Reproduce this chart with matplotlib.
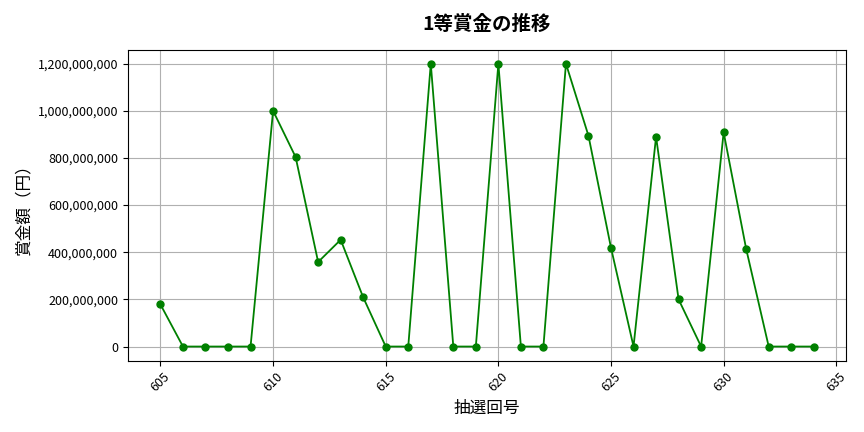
import numpy as np
import matplotlib
matplotlib.use("Agg")
import matplotlib.pyplot as plt
from matplotlib.ticker import FuncFormatter

plt.rcParams["font.family"] = ["Noto Sans CJK JP", "DejaVu Sans"]

draws = list(range(605, 635))
prizes = [
    178_600_000, 0, 0, 0, 0,
    1_000_000_000, 804_000_000, 358_600_000, 453_000_000, 208_600_000,
    0, 0, 1_200_000_000, 0, 0,
    1_200_000_000, 0, 0, 1_200_000_000, 894_000_000,
    418_600_000, 0, 890_000_000, 200_000_000, 0,
    908_600_000, 414_000_000, 0, 0, 0,
]

fig, ax = plt.subplots(figsize=(8.64, 4.32), dpi=100)
ax.plot(draws, prizes, color="green", marker="o", markersize=5, linewidth=1.3)
ax.set_title("1等賞金の推移", fontsize=14, fontweight="bold", pad=14)
ax.set_xlabel("抽選回号", fontsize=12)
ax.set_ylabel("賞金額（円）", fontsize=12)
ax.yaxis.set_major_formatter(FuncFormatter(lambda v, p: f"{int(v):,}"))
ax.set_xticks(np.arange(605, 636, 5))
plt.setp(ax.get_xticklabels(), rotation=45)
ax.tick_params(labelsize=9)
ax.grid(True, color="#b0b0b0", linewidth=0.8)
plt.tight_layout()
plt.savefig("out.png", dpi=100)
